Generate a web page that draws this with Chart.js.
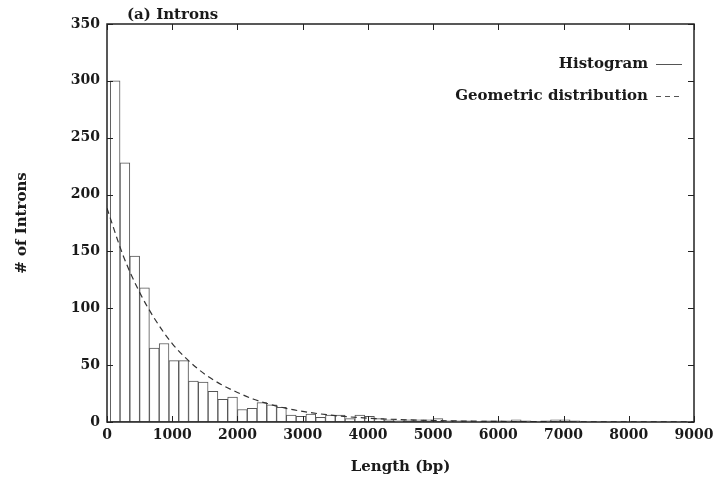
<!DOCTYPE html>
<html>
<head>
<meta charset="utf-8">
<script src="https://cdn.jsdelivr.net/npm/chart.js@4"></script>
<style>
  html, body { margin: 0; padding: 0; background: #fff; }
  #wrap { width: 719px; height: 485px; }
</style>
</head>
<body>
<div id="wrap"><canvas id="myChart" width="719" height="485"></canvas></div>
<script>
// Histogram bin centres (bp), 150 bp wide bins
const binCenters = [
  125, 275, 425, 575, 725, 875, 1025, 1175, 1325, 1475,
  1625, 1775, 1925, 2075, 2225, 2375, 2525, 2675, 2825, 2975,
  3125, 3275, 3425, 3575, 3725, 3875, 4025, 4175, 4325, 4475,
  4625, 4775, 4925, 5075, 5225, 5375, 5525, 5675, 5825, 5975,
  6125, 6275, 6425, 6575, 6725, 6875, 7025, 7175, 7325,
];
const binCounts = [
  300, 228, 146, 118, 65, 69, 54, 54, 36, 35,
  27, 20, 22, 11, 12, 17, 15, 13, 6, 5,
  7, 4, 6, 6, 3, 6, 5, 3, 2, 1,
  2, 2, 2, 3, 1, 1, 1, 0, 1, 1,
  1, 2, 1, 0, 1, 2, 2, 1, 0,
];

// Geometric distribution curve
const curveX = [0, 250, 500, 750, 1000, 1250, 1500, 1750, 2000, 2250, 2500, 2750, 3000, 3500, 4000, 4500, 5000, 6000, 7000, 8000, 9000];
const curveY = [188, 146, 114, 89, 69, 54, 42, 33, 26, 20, 15.5, 12, 9.3, 5.6, 3.4, 2.1, 1.3, 0.5, 0.2, 0.1, 0.05];

const xTicks = [0, 1000, 2000, 3000, 4000, 5000, 6000, 7000, 8000, 9000];
const yTicks = [0, 50, 100, 150, 200, 250, 300, 350];

const serif = "'DejaVu Serif', 'Liberation Serif', serif";
const ink = "#1a1a1a";

const ctx = document.getElementById("myChart");

// Frame, inward ticks on all four sides, title and legend
const gnuplotLook = {
  id: "gnuplotLook",
  afterDraw(chart) {
    const { ctx: c, chartArea: a, scales } = chart;
    const { x, y } = scales;
    c.save();
    c.strokeStyle = "#222";
    c.lineWidth = 1.5;
    c.strokeRect(a.left, a.top, a.right - a.left, a.bottom - a.top);

    c.lineWidth = 1;
    const len = 6;
    c.beginPath();
    xTicks.forEach((v) => {
      const px = Math.round(x.getPixelForValue(v)) + 0.5;
      c.moveTo(px, a.bottom);
      c.lineTo(px, a.bottom - len);
      c.moveTo(px, a.top);
      c.lineTo(px, a.top + len);
    });
    yTicks.forEach((v) => {
      const py = Math.round(y.getPixelForValue(v)) + 0.5;
      c.moveTo(a.left, py);
      c.lineTo(a.left + len, py);
      c.moveTo(a.right, py);
      c.lineTo(a.right - len, py);
    });
    c.stroke();

    // Panel title
    c.fillStyle = ink;
    c.font = `bold 15px ${serif}`;
    c.textBaseline = "middle";
    c.textAlign = "left";
    c.fillText("(a) Introns", 127, 15);

    // Legend, text right-aligned with the line sample after it
    const items = [
      { label: "Histogram", dash: [], y: 64 },
      { label: "Geometric distribution", dash: [5, 4], y: 96 },
    ];
    c.textAlign = "right";
    items.forEach((it) => {
      c.fillText(it.label, 648, it.y);
      c.beginPath();
      c.setLineDash(it.dash);
      c.strokeStyle = "#555";
      c.moveTo(656, it.y + 0.5);
      c.lineTo(682, it.y + 0.5);
      c.stroke();
    });
    c.restore();
  },
};

const tickFont = { family: serif, size: 14, weight: "bold" };
const labelFont = { family: serif, size: 15, weight: "bold" };

new Chart(ctx, {
  data: {
    datasets: [
      {
        type: "line",
        label: "Geometric distribution",
        data: curveX.map((v, i) => ({ x: v, y: curveY[i] })),
        borderColor: "#333",
        borderWidth: 1.2,
        borderDash: [6, 4],
        pointRadius: 0,
        cubicInterpolationMode: "monotone",
        order: 0,
      },
      {
        type: "bar",
        label: "Histogram",
        data: binCenters.map((v, i) => ({ x: v, y: binCounts[i] })),
        backgroundColor: "#fff",
        borderColor: "#555",
        borderWidth: 1,
        borderSkipped: false,
        barPercentage: 1,
        categoryPercentage: 1,
        order: 1,
      },
    ],
  },
  plugins: [gnuplotLook],
  options: {
    responsive: false,
    animation: false,
    layout: {
      padding: { top: 24, right: 25, left: 0, bottom: 0 },
    },
    plugins: {
      legend: { display: false },
      tooltip: { enabled: false },
      title: { display: false },
    },
    scales: {
      x: {
        type: "linear",
        min: 0,
        max: 9000,
        offset: false,
        grid: { display: false, drawTicks: false, offset: false },
        border: { display: false },
        afterBuildTicks: (scale) => {
          scale.ticks = xTicks.map((v) => ({ value: v }));
        },
        afterFit: (scale) => {
          scale.height = 63;
        },
        ticks: {
          color: ink,
          padding: 5,
          maxRotation: 0,
          font: tickFont,
          callback: (value) => String(value),
        },
        title: {
          display: true,
          text: "Length (bp)",
          color: ink,
          padding: { top: 0, bottom: 9 },
          font: labelFont,
        },
      },
      y: {
        min: 0,
        max: 350,
        grid: { display: false, drawTicks: false },
        border: { display: false },
        afterBuildTicks: (scale) => {
          scale.ticks = yTicks.map((v) => ({ value: v }));
        },
        afterFit: (scale) => {
          scale.width = 107;
        },
        ticks: {
          color: ink,
          padding: 7,
          font: tickFont,
          callback: (value) => String(value),
        },
        title: {
          display: true,
          text: "# of Introns",
          color: ink,
          padding: { top: 13, bottom: 0 },
          font: labelFont,
        },
      },
    },
  },
});
</script>
</body>
</html>
